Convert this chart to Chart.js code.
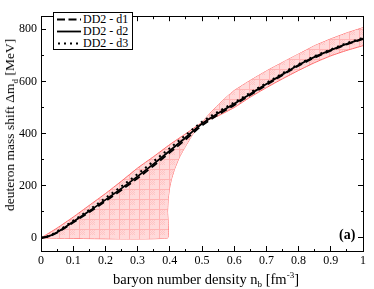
<!DOCTYPE html>
<html>
<head>
<meta charset="utf-8">
<script src="https://cdn.jsdelivr.net/npm/chart.js@4.4.1/dist/chart.umd.min.js"></script>
<style>
  html, body { margin: 0; padding: 0; background: #fff; }
  #wrap { position: relative; width: 374px; height: 289px; font-family: 'Liberation Serif', 'DejaVu Serif', serif; }
  #chart { position: absolute; left: 0; top: 0; }
  .ytitle { position: absolute; left: 10px; top: 125px; transform: translate(-50%, -50%) rotate(-90deg); white-space: nowrap; font-size: 13.5px; }
  .xtitle { position: absolute; left: 206px; top: 279px; transform: translate(-50%, -50%); white-space: nowrap; font-size: 14.5px; }
  sub, sup { font-size: 9px; line-height: 0; }
  .tag { position: absolute; left: 339px; top: 227px; font-weight: bold; font-size: 14px; }
  #legend { position: absolute; left: 53px; top: 12px; width: 78px; height: 36px; border: 1px solid #000; background: #fff; font-size: 12px; line-height: 12px; }
  .row { position: absolute; left: 3px; height: 12px; display: flex; align-items: center; white-space: nowrap; }
  .row span { margin-left: 2px; }
</style>
</head>
<body>
<div id="wrap">
  <canvas id="chart" width="374" height="289"></canvas>
  <div class="ytitle">deuteron mass shift &Delta;m<sub>d</sub> [MeV]</div>
  <div class="xtitle">baryon number density n<sub>b</sub> [fm<sup>-3</sup>]</div>
  <div class="tag">(a)</div>
  <div id="legend">
    <div class="row" style="top:0px"><svg width="24" height="12"><line x1="0" y1="6.5" x2="24" y2="6.5" stroke="#000" stroke-width="1.8" stroke-dasharray="8,3.5"/></svg><span>DD2 - d1</span></div>
    <div class="row" style="top:12px"><svg width="24" height="12"><line x1="0" y1="6.5" x2="24" y2="6.5" stroke="#000" stroke-width="1.8"/></svg><span>DD2 - d2</span></div>
    <div class="row" style="top:24px"><svg width="24" height="12"><line x1="1" y1="6.5" x2="24" y2="6.5" stroke="#000" stroke-width="2" stroke-dasharray="2,4"/></svg><span>DD2 - d3</span></div>
  </div>
</div>
<script>
// ---- data ----
const curveX = [0, 0.025, 0.05, 0.1, 0.15, 0.2, 0.25, 0.3, 0.35, 0.4, 0.45, 0.5, 0.55, 0.6, 0.65, 0.7, 0.75, 0.8, 0.85, 0.9, 0.95, 1.0]
const d1 = [0, 6, 20, 59, 99, 141, 184, 229, 277, 327, 378, 431, 472, 509, 548, 586, 624, 660, 691, 718, 742, 762]
const d2 = [0, 7, 22, 62, 103, 146, 190, 236, 284, 334, 386, 438, 478, 514, 552, 590, 627, 663, 694, 720, 744, 764]
const d3 = [0, 8, 25, 66, 108, 153, 198, 245, 294, 344, 395, 445, 484, 519, 557, 594, 631, 666, 697, 723, 747, 767]

// band edge that starts at the origin (upper edge below n=0.5, lower edge above)
const edgeAX = [0, 0.05, 0.1, 0.15, 0.2, 0.25, 0.3, 0.35, 0.4, 0.45, 0.5, 0.55, 0.6, 0.65, 0.7, 0.75, 0.8, 0.85, 0.9, 0.95, 1.0]
const edgeA = [0, 38, 80, 125, 170, 218, 268, 312, 358, 400, 442, 468, 500, 540, 576, 610, 642, 672, 698, 719, 737]

// band edge that sits on zero, rises steeply at n=0.393 (upper edge above n=0.5)
const edgeBX = [0, 0.393, 0.393, 0.395, 0.399, 0.405, 0.415, 0.43, 0.448, 0.47, 0.49, 0.5, 0.525, 0.55, 0.575, 0.6, 0.65, 0.7, 0.75, 0.8, 0.85, 0.9, 0.95, 1.0]
const edgeB = [0, 0, 100, 150, 190, 225, 265, 310, 350, 395, 428, 443, 478, 510, 539, 565, 604, 640, 673, 705, 737, 763, 786, 806]

const xTickValues = [0, 0.05, 0.1, 0.15, 0.2, 0.25, 0.3, 0.35, 0.4, 0.45, 0.5, 0.55, 0.6, 0.65, 0.7, 0.75, 0.8, 0.85, 0.9, 0.95, 1]
const xTickLabels = ['0', '', '0.1', '', '0.2', '', '0.3', '', '0.4', '', '0.5', '', '0.6', '', '0.7', '', '0.8', '', '0.9', '', '1']
const yTickValues = [0, 100, 200, 300, 400, 500, 600, 700, 800]
const yTickLabels = ['0', '', '200', '', '400', '', '600', '', '800']

const pts = (xs, ys) => xs.map((x, i) => ({ x, y: ys[i] }))

// pink hatched fill of the band
function hatch() {
  const c = document.createElement('canvas')
  c.width = 10; c.height = 10
  const g = c.getContext('2d')
  g.fillStyle = '#ffdada'
  g.fillRect(0, 0, 10, 10)
  g.fillStyle = '#ffc4c4'
  for (let i = 0; i < 5; i++) for (let j = 0; j < 5; j++) if ((i + j) % 2 === 0) g.fillRect(i, j, 1, 1)
  g.fillStyle = '#ffb4b4'
  g.fillRect(0, 9, 10, 1)
  g.fillRect(9, 0, 1, 10)
  return g.createPattern(c, 'repeat')
}

const serif = "'Liberation Serif', 'DejaVu Serif', serif"

// major ticks 5px inward, minor ticks 3px (via dash)
function gridOpts(labels, startsAtBorder) {
  return {
    drawOnChartArea: false,
    drawTicks: true,
    tickLength: -5,
    tickColor: '#000',
    tickWidth: 1,
    tickBorderDash: ctx => labels[ctx.index] !== '' ? [] : (startsAtBorder ? [3, 100] : [0, 2, 3, 100]),
  }
}
const setTicks = values => s => { s.ticks = values.map(v => ({ value: v })) }

const ctx = document.getElementById('chart').getContext('2d')
new Chart(ctx, {
  type: 'line',
  data: {
    datasets: [
      { data: pts(edgeAX, edgeA), borderColor: '#ff6a6a', borderWidth: 1, backgroundColor: hatch(), fill: '+1', pointRadius: 0, tension: 0.2, order: 10 },
      { data: pts(edgeBX, edgeB), borderColor: '#ff6a6a', borderWidth: 1, fill: false, pointRadius: 0, tension: 0.1, order: 10 },
      { label: 'DD2 - d1', data: pts(curveX, d1), borderColor: '#000', borderWidth: 1.8, borderDash: [7, 4], fill: false, pointRadius: 0, cubicInterpolationMode: 'monotone', order: 1 },
      { label: 'DD2 - d2', data: pts(curveX, d2), borderColor: '#000', borderWidth: 1.8, fill: false, pointRadius: 0, cubicInterpolationMode: 'monotone', order: 1 },
      { label: 'DD2 - d3', data: pts(curveX, d3), borderColor: '#000', borderWidth: 2, borderDash: [2, 4], fill: false, pointRadius: 0, cubicInterpolationMode: 'monotone', order: 1 },
    ]
  },
  options: {
    responsive: false,
    animation: false,
    layout: { padding: 0 },
    plugins: { legend: { display: false }, tooltip: { enabled: false } },
    scales: {
      x: {
        type: 'linear', position: 'bottom', min: 0, max: 1,
        afterFit: s => { s.height = 38 },
        afterBuildTicks: setTicks(xTickValues),
        border: { color: '#000', width: 1 },
        grid: gridOpts(xTickLabels, true),
        ticks: {
          autoSkip: false, maxRotation: 0, padding: 8, color: '#000',
          font: { family: serif, size: 12 },
          callback: (v, i) => xTickLabels[i]
        }
      },
      x2: {
        type: 'linear', position: 'top', min: 0, max: 1,
        afterFit: s => { s.height = 0 },
        afterBuildTicks: setTicks(xTickValues),
        border: { color: '#000', width: 1 },
        grid: gridOpts(xTickLabels, false),
        ticks: { autoSkip: false, display: false }
      },
      y: {
        type: 'linear', position: 'left', min: -50, max: 850,
        afterFit: s => { s.width = 41 },
        afterBuildTicks: setTicks(yTickValues),
        border: { color: '#000', width: 1 },
        grid: gridOpts(yTickLabels, false),
        ticks: {
          autoSkip: false, padding: 9, color: '#000',
          font: { family: serif, size: 12 },
          callback: (v, i) => yTickLabels[i]
        }
      },
      y2: {
        type: 'linear', position: 'right', min: -50, max: 850,
        afterFit: s => { s.width = 3 },
        afterBuildTicks: setTicks(yTickValues),
        border: { color: '#000', width: 1 },
        grid: gridOpts(yTickLabels, true),
        ticks: { autoSkip: false, display: false }
      }
    }
  }
})
</script>
</body>
</html>
